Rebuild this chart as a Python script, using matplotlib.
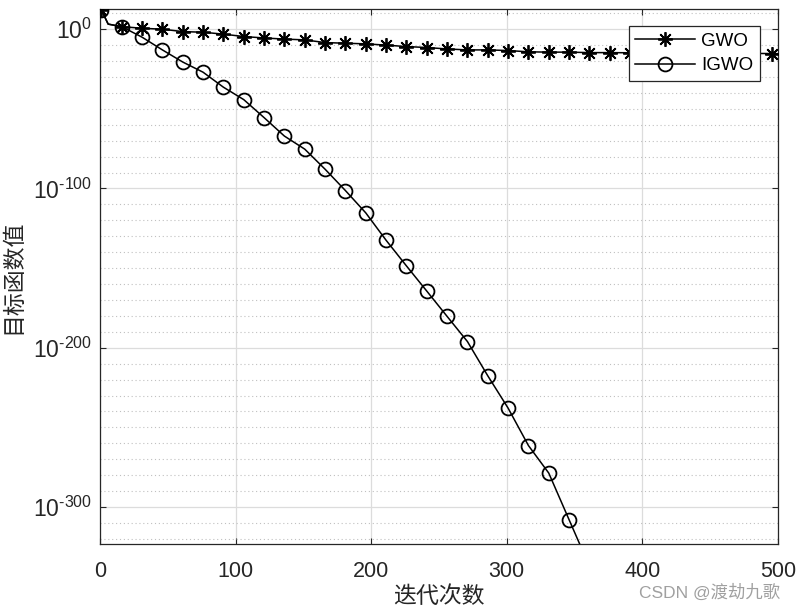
import numpy as np
import matplotlib.pyplot as plt
from matplotlib.ticker import FixedLocator, MultipleLocator, FuncFormatter

plt.rcParams['font.family'] = ['Liberation Sans', 'Noto Sans CJK SC', 'DejaVu Sans']
plt.rcParams['mathtext.fontset'] = 'custom'
plt.rcParams['mathtext.rm'] = 'Liberation Sans'
plt.rcParams['mathtext.it'] = 'Liberation Sans'

# iteration number and log10 of the objective value
gwo_iter = [1, 6, 16, 31, 46, 61, 76, 91, 106, 121, 136, 151, 166, 181, 196,
            211, 226, 241, 256, 271, 286, 301, 316, 331, 346, 361, 376, 391,
            406, 421, 436, 451, 466, 481, 496, 500]
gwo_log = [12.1, 3.2, 1.6, 0.6, 0.0, -1.5, -1.9, -3.1, -4.6, -5.5, -6.2, -6.7,
           -8.4, -8.8, -9.2, -10.0, -10.9, -11.5, -12.4, -13.0, -13.0, -13.4,
           -14.2, -14.4, -14.4, -14.7, -14.7, -14.8, -14.9, -15.0, -15.0, -15.1,
           -15.2, -15.2, -15.3, -15.4]

igwo_iter = [1, 6, 16, 31, 46, 61, 76, 91, 106, 121, 136, 151, 166, 181, 196,
             211, 226, 241, 256, 271, 286, 301, 316, 331, 346, 354]
igwo_log = [12.1, 3.2, 1.6, -5.0, -13.0, -20.6, -27.0, -36.4, -44.2, -55.5,
            -67.1, -75.3, -87.9, -101.3, -115.3, -132.5, -148.6, -164.4, -180.3,
            -196.1, -217.6, -237.9, -261.4, -278.7, -308.0, -323.6]

marker_step = 15

fig = plt.figure(figsize=(7.97, 6.10), dpi=100)
ax = fig.add_axes([0.1255, 0.108, 0.8505, 0.8765])


def mark_idx(iters):
    return [i for i, it in enumerate(iters) if (it - 1) % marker_step == 0]


ax.plot(gwo_iter, gwo_log, color='black', lw=1.1, marker=(8, 2, 0),
        markersize=10.5, markeredgewidth=1.3, markevery=mark_idx(gwo_iter),
        label='GWO', zorder=3)
ax.plot(igwo_iter, igwo_log, color='black', lw=1.1, marker='o',
        markersize=10, markerfacecolor='none', markeredgewidth=1.3,
        markevery=mark_idx(igwo_iter), label='IGWO', zorder=3)

ax.set_xlim(0, 500)
ax.set_ylim(-323.3, 12.4)
ax.xaxis.set_major_locator(MultipleLocator(100))
ax.yaxis.set_major_locator(FixedLocator([-300, -200, -100, 0]))
ax.yaxis.set_minor_locator(FixedLocator(
    [v for v in range(-320, 20, 10) if v % 100 != 0]))


def fmt(v, pos):
    v = int(round(v))
    if v == 0:
        return r'$\mathregular{10^{0}}$'
    return r'$\mathregular{10^{\text{-}%d}}$' % (-v)


ax.yaxis.set_major_formatter(FuncFormatter(fmt))

ax.grid(True, which='major', color='#dcdcdc', lw=0.9, linestyle='-')
ax.grid(True, which='minor', axis='y', color='#c0c0c0', lw=0.8,
        linestyle=(0, (1, 2.5)))
ax.set_axisbelow(True)

ax.tick_params(which='major', direction='in', length=4.5, width=0.8,
               top=True, right=True, labelsize=15.5, colors='#262626')
ax.tick_params(axis='x', pad=12)
ax.tick_params(axis='y', pad=6, labelsize=16.5)
ax.tick_params(which='minor', length=0, left=False, right=False)
for s in ax.spines.values():
    s.set_color('#262626')
    s.set_linewidth(0.9)

ax.set_xlabel('迭代次数', fontsize=16.5, family=['Noto Sans CJK SC'],
              color='#262626', labelpad=2)
ax.set_ylabel('目标函数值', fontsize=16.5, family=['Noto Sans CJK SC'],
              color='#262626', labelpad=6)

leg = ax.legend(loc='upper right', bbox_to_anchor=(0.973, 0.969), fontsize=13.5,
                frameon=True, fancybox=False, framealpha=1, edgecolor='#262626',
                handlelength=3.2, borderpad=0.35, labelspacing=0.4,
                handletextpad=0.3, borderaxespad=0)
leg.get_frame().set_linewidth(0.9)

fig.text(0.979, 0.029, 'CSDN @渡劫九歌', ha='right', va='center', fontsize=12.5,
         color='#a0a0a0', family=['Liberation Sans', 'Noto Sans CJK SC'])

fig.savefig('out.png', dpi=100)
